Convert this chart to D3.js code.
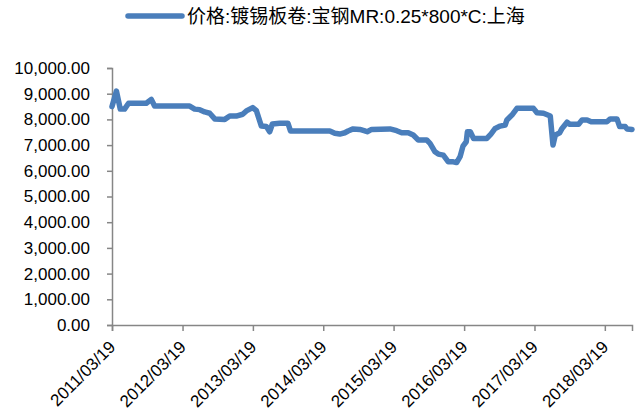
<!DOCTYPE html>
<html>
<head>
<meta charset="utf-8">
<script src="https://cdn.jsdelivr.net/npm/d3@7"></script>
<style>
body { margin: 0; background: #fff; }
</style>
</head>
<body>
<script>
var seriesName = "价格:镀锡板卷:宝钢MR:0.25*800*C:上海";

var dates = ["2011-03-19", "2011-04-11", "2011-05-01", "2011-05-23", "2011-06-13", "2011-09-13",
  "2011-10-09", "2011-10-26", "2012-04-25", "2012-05-21", "2012-06-16", "2012-07-12",
  "2012-08-07", "2012-09-02", "2012-10-24", "2012-11-19", "2012-12-23", "2013-01-25",
  "2013-02-13", "2013-03-18", "2013-04-06", "2013-05-02", "2013-05-28", "2013-06-14",
  "2013-06-28", "2013-08-05", "2013-09-17", "2013-09-30", "2014-04-22", "2014-05-18",
  "2014-06-13", "2014-07-09", "2014-07-26", "2014-08-21", "2014-09-25", "2014-10-21",
  "2014-11-02", "2014-11-25", "2015-02-28", "2015-04-04", "2015-04-30", "2015-06-03",
  "2015-06-29", "2015-07-25", "2015-09-07", "2015-09-24", "2015-10-20", "2015-11-06",
  "2015-12-02", "2015-12-28", "2016-01-23", "2016-02-09", "2016-02-27", "2016-03-13",
  "2016-03-30", "2016-04-05", "2016-04-20", "2016-05-07", "2016-07-15", "2016-08-05",
  "2016-08-27", "2016-09-22", "2016-10-18", "2016-10-27", "2016-11-22", "2016-12-18",
  "2017-03-14", "2017-04-01", "2017-05-05", "2017-06-09", "2017-06-14", "2017-06-23",
  "2017-07-05", "2017-07-28", "2017-08-09", "2017-09-04", "2017-09-18", "2017-11-03",
  "2017-11-21", "2017-12-17", "2018-01-07", "2018-03-30", "2018-04-16", "2018-05-21",
  "2018-06-04", "2018-07-03", "2018-07-12", "2018-08-07"];

var prices = [8500, 9100, 8400, 8400, 8630, 8630,
  8780, 8520, 8520, 8400, 8380, 8290,
  8240, 8020, 8000, 8130, 8130, 8200,
  8330, 8460, 8340, 7740, 7720, 7520,
  7820, 7850, 7850, 7550, 7550, 7460,
  7430, 7480, 7550, 7630, 7610, 7550,
  7520, 7610, 7630, 7560, 7480, 7480,
  7390, 7200, 7200, 7070, 6740, 6650,
  6610, 6350, 6350, 6320, 6550, 6960,
  7130, 7520, 7520, 7260, 7260, 7430,
  7650, 7740, 7780, 7980, 8170, 8430,
  8430, 8260, 8240, 8130, 7720, 7000,
  7390, 7480, 7650, 7890, 7810, 7810,
  7980, 7980, 7910, 7910, 8020, 8020,
  7720, 7720, 7630, 7610];

var xTickLabels = ["2011/03/19", "2012/03/19", "2013/03/19", "2014/03/19",
  "2015/03/19", "2016/03/19", "2017/03/19", "2018/03/19"];

var yTicks = [0, 1000, 2000, 3000, 4000, 5000, 6000, 7000, 8000, 9000, 10000];

var width = 644;
var height = 417;
var axisColor = "#868686";
var lineColor = "#4a7ebb";

var parseDate = d3.timeParse("%Y-%m-%d");
var parseTick = d3.timeParse("%Y/%m/%d");

var data = dates.map(function (d, i) {
  return { date: parseDate(d), value: prices[i] };
});

var svg = d3.select("body").append("svg")
  .attr("width", width)
  .attr("height", height)
  .style("font-family", "'Liberation Sans', Arial, sans-serif");

var x = d3.scaleTime()
  .domain(d3.extent(data, function (d) { return d.date; }))
  .range([112, 632]);

var y = d3.scaleLinear()
  .domain([0, 10000])
  .range([325, 68]);

// y axis
var yAxis = d3.axisLeft(y)
  .tickValues(yTicks)
  .tickSize(5)
  .tickPadding(17)
  .tickFormat(d3.format(",.2f"));

var yAxisGroup = svg.append("g")
  .attr("transform", "translate(112,0)")
  .call(yAxis);

// x axis
var xAxis = d3.axisBottom(x)
  .tickValues(xTickLabels.map(parseTick))
  .tickSize(6)
  .tickFormat(d3.timeFormat("%Y/%m/%d"));

var xAxisGroup = svg.append("g")
  .attr("transform", "translate(0,325)")
  .call(xAxis);

xAxisGroup.selectAll("text")
  .attr("text-anchor", "end")
  .attr("dy", null)
  .attr("y", 0)
  .attr("transform", "translate(4,23) rotate(-45)");

[yAxisGroup, xAxisGroup].forEach(function (g) {
  g.select(".domain").attr("stroke", axisColor).attr("stroke-width", 1.5);
  g.selectAll(".tick line").attr("stroke", axisColor).attr("stroke-width", 1.5);
  g.selectAll("text").attr("fill", "#000").style("font-size", "17px");
});

// price line
var line = d3.line()
  .x(function (d) { return x(d.date); })
  .y(function (d) { return y(d.value); });

svg.append("path")
  .datum(data)
  .attr("fill", "none")
  .attr("stroke", lineColor)
  .attr("stroke-width", 5.5)
  .attr("stroke-linejoin", "round")
  .attr("stroke-linecap", "round")
  .attr("d", line);

// legend
svg.append("line")
  .attr("x1", 128).attr("x2", 182)
  .attr("y1", 16).attr("y2", 16)
  .attr("stroke", lineColor)
  .attr("stroke-width", 5.5)
  .attr("stroke-linecap", "round");

svg.append("text")
  .attr("x", 187)
  .attr("y", 23)
  .style("font-family", "'Liberation Sans', 'Noto Sans CJK SC', sans-serif")
  .style("font-size", "19px")
  .attr("fill", "#000")
  .text(seriesName);
</script>
</body>
</html>
